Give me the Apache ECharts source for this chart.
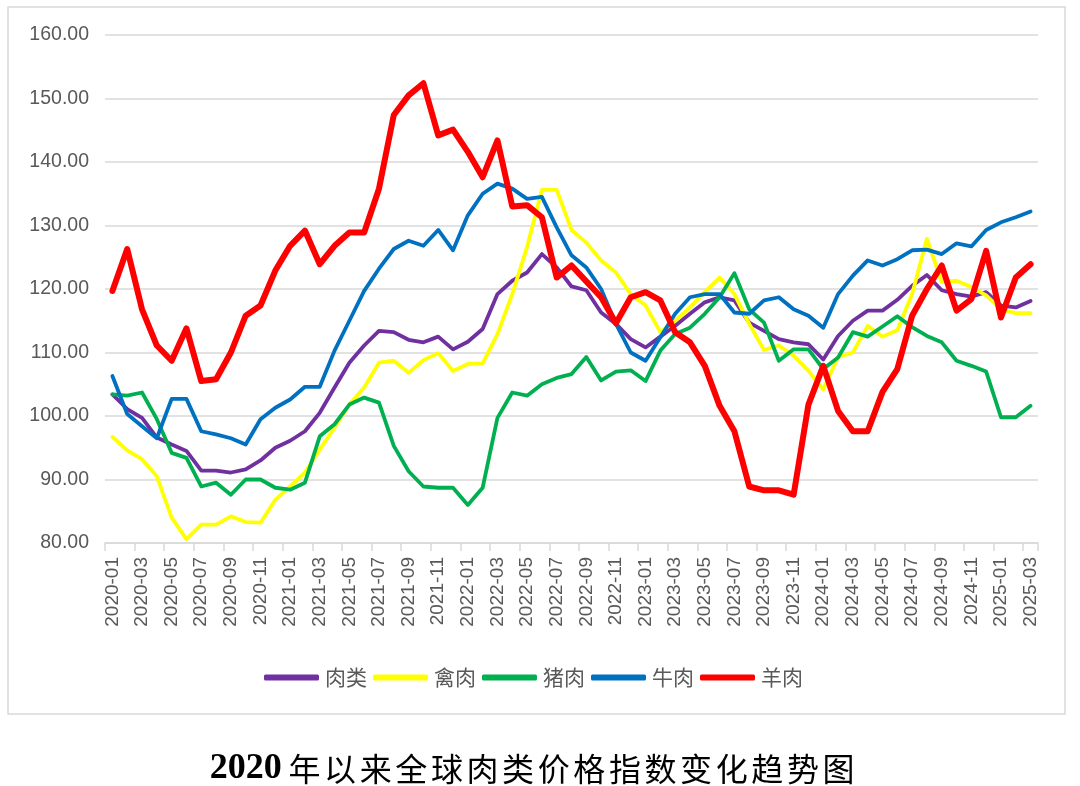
<!DOCTYPE html>
<html>
<head>
<meta charset="utf-8">
<style>
html,body{margin:0;padding:0;background:#fff;}
#c{width:1080px;height:786px;}
</style>
<script src="https://cdn.jsdelivr.net/npm/echarts@6/dist/echarts.min.js"></script>
</head>
<body>
<div id="c"></div>
<script>
// Months 2020-01 .. 2025-03
const months = [];
for (let y = 2020; y <= 2025; y++) {
  for (let m = 1; m <= 12; m++) {
    if (y === 2025 && m > 3) break;
    months.push(y + '-' + (m < 10 ? '0' + m : m));
  }
}
const seriesNames = ['肉类', '禽肉', '猪肉', '牛肉', '羊肉'];
const meat = [103.4,101.1,99.7,96.6,95.5,94.5,91.4,91.4,91.1,91.6,93.0,95.0,96.1,97.6,100.5,104.5,108.4,111.1,113.4,113.2,112.0,111.6,112.5,110.5,111.7,113.7,119.2,121.3,122.6,125.5,123.4,120.4,119.8,116.3,114.5,112.1,110.8,112.5,114.2,116.1,117.9,118.7,118.2,114.7,113.4,112.1,111.6,111.3,108.9,112.6,115.0,116.6,116.6,118.3,120.5,122.2,119.8,119.2,118.8,119.5,117.4,117.1,118.1];
const poultry = [96.7,94.6,93.2,90.5,84.0,80.6,82.9,82.9,84.2,83.3,83.2,86.8,88.9,91.1,94.7,98.2,101.8,104.5,108.4,108.7,106.8,108.8,109.9,107.1,108.2,108.3,112.9,119.2,126.6,135.6,135.6,129.3,127.3,124.5,122.6,119.2,117.4,113.2,115.0,117.1,119.5,121.8,119.2,114.5,110.4,111.1,109.5,107.1,104.2,109.3,110.0,114.2,112.5,113.5,119.2,127.9,121.1,121.3,120.3,119.0,116.8,116.2,116.2];
const pork = [103.4,103.2,103.7,99.5,94.2,93.4,88.9,89.5,87.6,90.0,90.0,88.7,88.4,89.5,96.8,98.7,101.8,102.9,102.1,95.3,91.3,88.9,88.7,88.7,86.0,88.7,99.7,103.7,103.2,105.0,106.0,106.6,109.3,105.6,107.0,107.2,105.5,110.3,112.9,113.9,116.1,118.7,122.5,116.8,114.7,108.7,110.5,110.5,107.4,109.2,113.2,112.5,114.1,115.7,114.0,112.6,111.6,108.7,107.9,107.0,99.8,99.8,101.6];
const beef = [106.3,100.3,98.4,96.5,102.7,102.7,97.6,97.1,96.5,95.5,99.5,101.3,102.6,104.6,104.6,110.3,115.0,119.7,123.2,126.3,127.6,126.8,129.3,126.1,131.6,135.0,136.6,135.8,134.2,134.5,129.7,125.3,123.4,120.0,114.5,110.0,108.7,112.4,116.1,118.7,119.2,119.2,116.3,116.1,118.2,118.7,116.8,115.8,113.9,119.2,122.1,124.5,123.7,124.7,126.1,126.2,125.5,127.2,126.7,129.3,130.5,131.3,132.2];
const lamb = [119.7,126.3,116.8,111.1,108.7,113.8,105.5,105.8,110.0,115.8,117.4,122.9,126.8,129.2,123.9,126.8,128.9,128.9,135.8,147.4,150.5,152.4,144.2,145.1,141.6,137.6,143.4,133.0,133.2,131.3,121.8,123.7,121.2,118.7,114.6,118.7,119.5,118.2,113.2,111.6,107.9,101.6,97.6,88.9,88.3,88.3,87.6,101.8,107.9,100.8,97.6,97.6,103.8,107.4,115.8,120.0,123.7,116.6,118.4,126.0,115.5,121.8,123.9];
const values = [meat, poultry, pork, beef, lamb];
const colors = ['#7030A0', '#FFFF00', '#00B050', '#0070C0', '#FF0000'];
const widths = [3.8, 3.8, 3.8, 3.8, 6];
const titleNum = '2020';
const titleText = '年以来全球肉类价格指数变化趋势图';

const chart = echarts.init(document.getElementById('c'), null, {renderer: 'canvas'});
chart.setOption({
  backgroundColor: '#fff',
  animation: false,
  grid: {left: 105, right: 42, top: 35, bottom: 243},
  legend: {
    data: seriesNames,
    top: 662,
    left: 259,
    icon: 'roundRect',
    itemWidth: 55,
    itemHeight: 6,
    itemGap: 6,
    textStyle: {fontSize: 21, color: '#595959', fontFamily: 'Noto Sans CJK SC', padding: [0, 0, 0, 1]}
  },
  xAxis: {
    type: 'category',
    data: months,
    boundaryGap: true,
    axisLine: {lineStyle: {color: '#d9d9d9', width: 1.5}},
    axisTick: {show: true, interval: 1, length: 8, lineStyle: {color: '#d9d9d9', width: 1.5}},
    axisLabel: {interval: 1, rotate: 90, margin: 14, fontSize: 19, color: '#595959', fontFamily: 'Liberation Sans'}
  },
  yAxis: {
    type: 'value',
    min: 80, max: 160, interval: 10,
    axisLine: {show: false},
    axisTick: {show: false},
    splitLine: {lineStyle: {color: '#d9d9d9', width: 1.5}},
    axisLabel: {margin: 16, fontSize: 19.5, color: '#595959', fontFamily: 'Liberation Sans',
      formatter: v => v.toFixed(2)}
  },
  series: seriesNames.map((n, i) => ({
    name: n,
    type: 'line',
    data: values[i],
    symbol: 'none',
    color: colors[i],
    lineStyle: {color: colors[i], width: widths[i], join: 'round', cap: 'round'}
  })),
  graphic: [
    {type: 'rect', shape: {x: 8, y: 7, width: 1057, height: 707}, style: {fill: 'none', stroke: '#d9d9d9', lineWidth: 1.5}, silent: true},
    {type: 'text', x: 533, y: 769, style: {
      text: '{a|' + titleNum + '}{s| }' + titleText.split('').map(ch => '{b|' + ch + '}').join(''),
      textAlign: 'center', textVerticalAlign: 'middle',
      rich: {
        a: {fontFamily: 'Liberation Serif', fontWeight: 'bold', fontSize: 36, fill: '#000'},
        s: {fontSize: 18},
        b: {fontFamily: 'Noto Sans CJK SC', fontSize: 32, fill: '#000', padding: [0, 1.8, 0, 1.8]}
      }
    }}
  ]
});
</script>
</body>
</html>
